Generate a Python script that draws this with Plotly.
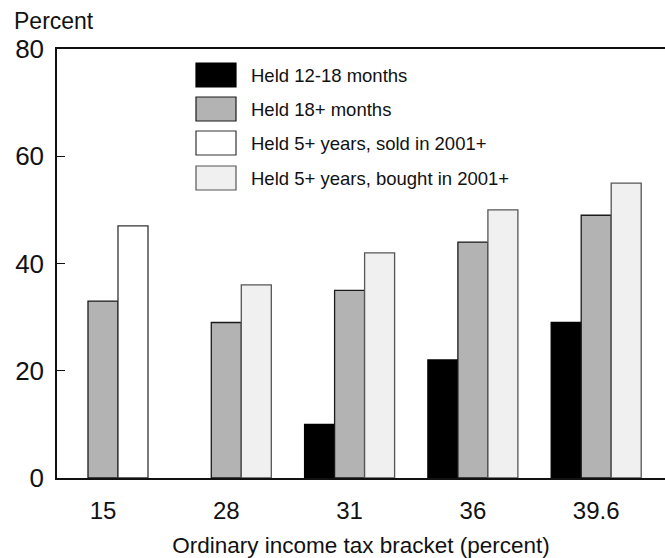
import plotly.graph_objects as go

categories = ["15", "28", "31", "36", "39.6"]
held_12_18 = [None, None, 10, 22, 29]
held_18plus = [33, 29, 35, 44, 49]
held5_sold2001 = [47, None, None, None, None]
held5_bought2001 = [None, 36, 42, 50, 55]

series_names = ["Held 12-18 months", "Held 18+ months",
                "Held 5+ years, sold in 2001+", "Held 5+ years, bought in 2001+"]
fills = ["#000000", "#b3b3b3", "#ffffff", "#f0f0f0"]
outlines = ["#000000", "#1a1a1a", "#333333", "#555555"]
groups = ["a", "b", "c", "c"]
values = [held_12_18, held_18plus, held5_sold2001, held5_bought2001]

FONT = "Liberation Sans, Arial, Helvetica, sans-serif"

fig = go.Figure()
for name, vals, fc, lc, g in zip(series_names, values, fills, outlines, groups):
    fig.add_trace(go.Bar(
        x=categories, y=vals, name=name, offsetgroup=g,
        marker=dict(color=fc, line=dict(color=lc, width=1.3)),
        showlegend=False,
    ))

# plot area in pixels: left 57, right 665, top 49, bottom 478
L, R, T, B = 57, 665, 49, 478
def px(x):
    return (x - L) / (R - L)
def py(y):
    return (B - y) / (B - T)

shapes = []
annotations = []
box_tops = [63, 97, 131, 166]
for i, (name, fc, lc) in enumerate(zip(series_names, fills, outlines)):
    y0 = box_tops[i]
    y1 = y0 + 24
    shapes.append(dict(type="rect", xref="paper", yref="paper",
                       x0=px(196), x1=px(236), y0=py(y1), y1=py(y0),
                       fillcolor=fc, line=dict(color=lc if i != 0 else "#000", width=1.2)))
    annotations.append(dict(text=name, xref="paper", yref="paper",
                            x=px(249), y=py((y0 + y1) / 2 + 0.5), xanchor="left", yanchor="middle",
                            showarrow=False, font=dict(size=18.5, color="#111", family=FONT)))

annotations.append(dict(text="Percent", xref="paper", yref="paper",
                        x=px(12), y=py(21), xanchor="left", yanchor="middle",
                        showarrow=False, font=dict(size=23, color="#111", family=FONT)))

fig.update_layout(
    width=665, height=558,
    margin=dict(l=L, r=0, t=T, b=558 - B, pad=0),
    paper_bgcolor="white", plot_bgcolor="white",
    barmode="group", bargap=0.27, bargroupgap=0,
    font=dict(family=FONT, color="#111"),
    shapes=shapes, annotations=annotations,
    xaxis=dict(type="category", range=[-0.373, 4.558], showline=True, mirror=True,
               linecolor="#111", linewidth=2, ticks="", showgrid=False,
               tickfont=dict(size=24, family=FONT, color="#111"),
               ticklabelstandoff=10,
               title=dict(text="Ordinary income tax bracket (percent)",
                          font=dict(size=22.5, family=FONT, color="#111"), standoff=15)),
    yaxis=dict(range=[0, 80], tickvals=[0, 20, 40, 60, 80], showline=True,
               linecolor="#111", linewidth=1.5, ticks="inside", ticklen=8,
               tickcolor="#111", tickwidth=1.2, showgrid=False, zeroline=False,
               tickfont=dict(size=26, family=FONT, color="#111"),
               ticklabelstandoff=6),
)

fig.write_html("out.html", config={"displayModeBar": False},
               post_script="document.body.style.margin='0';document.body.style.overflow='hidden';")
